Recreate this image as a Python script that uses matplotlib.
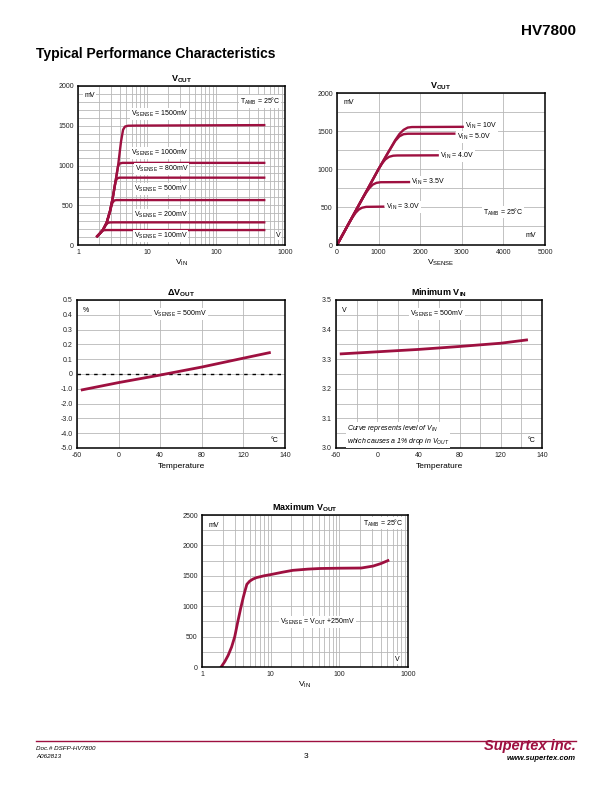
import matplotlib
matplotlib.use('Agg')
import matplotlib.pyplot as plt
from matplotlib.ticker import FixedLocator, NullFormatter, MultipleLocator, LogLocator
import numpy as np

plt.rcParams['font.family'] = ['Liberation Sans', 'DejaVu Sans']
plt.rcParams['mathtext.default'] = 'regular'

RED = '#9e1040'
GRID = '#b8b8b8'

# --- VOUT vs VIN (one curve per VSENSE) ---
vin_100 = [1.85, 2.05, 2.2, 2.35, 2.6, 3.0, 520]
vout_100 = [100, 140, 172, 186, 188, 188, 188]
vin_200 = [1.85, 2.05, 2.3, 2.5, 2.7, 2.9, 3.3, 520]
vout_200 = [100, 140, 190, 245, 278, 284, 285, 285]
vin_500 = [1.85, 2.05, 2.3, 2.6, 2.9, 3.15, 3.35, 3.6, 520]
vout_500 = [100, 140, 190, 280, 420, 530, 560, 565, 565]
vin_800 = [1.85, 2.05, 2.3, 2.6, 2.9, 3.2, 3.5, 3.7, 4.0, 520]
vout_800 = [100, 140, 190, 280, 420, 600, 800, 838, 847, 847]
vin_1000 = [1.85, 2.05, 2.3, 2.6, 2.9, 3.2, 3.5, 3.8, 4.0, 4.4, 520]
vout_1000 = [100, 140, 190, 280, 420, 600, 800, 990, 1025, 1033, 1033]
vin_1500 = [1.85, 2.05, 2.3, 2.6, 2.9, 3.2, 3.5, 3.8, 4.2, 4.5, 4.8, 5.3, 7, 520]
vout_1500 = [100, 140, 190, 280, 420, 600, 800, 990, 1300, 1450, 1490, 1500, 1502, 1508]
sense_labels = ['100', '200', '500', '800', '1000', '1500']

# --- VOUT vs VSENSE (one curve per VIN) ---
vs_30 = [0, 300, 380, 450, 520, 600, 700, 1110]
vo_30 = [0, 300, 370, 425, 465, 490, 502, 505]
vs_35 = [0, 600, 700, 780, 860, 950, 1050, 1730]
vo_35 = [0, 600, 690, 750, 795, 818, 826, 828]
vs_40 = [0, 1000, 1080, 1160, 1250, 1350, 1450, 2420]
vo_40 = [0, 1000, 1070, 1125, 1160, 1175, 1178, 1180]
vs_50 = [0, 1000, 1200, 1300, 1400, 1500, 1600, 1700, 2820]
vo_50 = [0, 1000, 1190, 1280, 1370, 1430, 1458, 1464, 1465]
vs_10 = [0, 1000, 1200, 1300, 1400, 1500, 1600, 1700, 1800, 3020]
vo_10 = [0, 1000, 1190, 1285, 1380, 1460, 1515, 1545, 1552, 1555]

# --- delta VOUT vs temperature ---
temp_dv = [-55, -20, 20, 60, 100, 125]
dvout = [-0.107, -0.058, -0.007, 0.047, 0.107, 0.144]
dv_ticklabels = ['-5.0', '-4.0', '-3.0', '-2.0', '-1.0', '0', '0.1', '0.2', '0.3', '0.4', '0.5']
temp_ticklabels = ['-60', '0', '40', '80', '120', '140']

# --- minimum VIN vs temperature ---
temp_vin = [-55, -20, 20, 60, 100, 125]
vin_min = [3.318, 3.325, 3.333, 3.343, 3.354, 3.365]

# --- maximum VOUT vs VIN ---
vin_max = [1.9, 2.15, 2.4, 2.7, 3.0, 3.3, 3.65, 4.0, 4.2, 4.5, 4.95, 5.5, 6.2, 8, 10, 15,
           21, 35, 52, 100, 209, 310, 400, 510]
vout_max = [0, 90, 190, 330, 500, 730, 960, 1150, 1240, 1360, 1412, 1445, 1470, 1500, 1520,
            1560, 1590, 1610, 1620, 1625, 1628, 1660, 1700, 1750]

W, H = 612, 792
fig = plt.figure(figsize=(W / 100, H / 100), dpi=100)


def box(l, t, r, b):
    return [l / W, 1 - b / H, (r - l) / W, (b - t) / H]


def style(ax, title):
    ax.tick_params(which='both', length=0, labelsize=5, pad=3, colors='#222222')
    for s in ax.spines.values():
        s.set_linewidth(1.1)
    ax.set_axisbelow(True)
    ax.grid(which='both', color=GRID, lw=0.6)
    ax.set_title(title, fontsize=6.5, fontweight='bold', pad=3.5)


def note(ax, x, y, s, ha='left', **kw):
    ax.text(x, y, s, transform=ax.transAxes, fontsize=5, ha=ha, va='center',
            bbox=dict(fc='white', ec='none', pad=0.6), **kw)


def logx(ax):
    ax.set_xscale('log')
    ax.set_xlim(1, 1000)
    ax.xaxis.set_major_locator(FixedLocator([1, 10, 100, 1000]))
    ax.set_xticklabels(['1', '10', '100', '1000'])
    ax.xaxis.set_minor_locator(LogLocator(base=10, subs=np.arange(2, 10)))
    ax.xaxis.set_minor_formatter(NullFormatter())


# chart 1
ax1 = fig.add_axes(box(78, 86, 285, 245))
style(ax1, 'V$_{OUT}$')
logx(ax1)
ax1.set_ylim(0, 2000)
ax1.yaxis.set_major_locator(MultipleLocator(500))
ax1.yaxis.set_minor_locator(MultipleLocator(100))
for xs, ys in [(vin_100, vout_100), (vin_200, vout_200), (vin_500, vout_500),
               (vin_800, vout_800), (vin_1000, vout_1000), (vin_1500, vout_1500)]:
    ax1.plot(xs, ys, color=RED, lw=1.7, solid_capstyle='butt')
ax1.set_xlabel('V$_{IN}$', fontsize=6, labelpad=1.5)
lab_pos = [(0.27, 0.057), (0.27, 0.189), (0.27, 0.352), (0.275, 0.478), (0.256, 0.579), (0.256, 0.824)]
for (x, y), s in zip(lab_pos, sense_labels):
    note(ax1, x, y, 'V$_{SENSE}$ = %smV' % s)
note(ax1, 0.03, 0.94, 'mV')
note(ax1, 0.976, 0.9, 'T$_{AMB}$ = 25°C', ha='right')
note(ax1, 0.955, 0.057, 'V')

# chart 2
ax2 = fig.add_axes(box(337, 93, 545, 245))
style(ax2, 'V$_{OUT}$')
ax2.set_xlim(0, 5000)
ax2.set_ylim(0, 2000)
ax2.xaxis.set_major_locator(MultipleLocator(1000))
ax2.yaxis.set_major_locator(MultipleLocator(500))
ax2.yaxis.set_minor_locator(MultipleLocator(250))
vin_names = ['3.0V', '3.5V', '4.0V', '5.0V', '10V']
lab_y = [500, 830, 1171, 1425, 1566]
for (xs, ys), nm, ly in zip([(vs_30, vo_30), (vs_35, vo_35), (vs_40, vo_40),
                             (vs_50, vo_50), (vs_10, vo_10)], vin_names, lab_y):
    ax2.plot(xs, ys, color=RED, lw=1.7)
    ax2.text(xs[-1] + 60, ly, 'V$_{IN}$ = ' + nm, fontsize=5, va='center',
             bbox=dict(fc='white', ec='none', pad=0.6))
ax2.set_xlabel('V$_{SENSE}$', fontsize=6, labelpad=1.5)
note(ax2, 0.03, 0.94, 'mV')
note(ax2, 0.8, 0.217, 'T$_{AMB}$ = 25°C', ha='center')
note(ax2, 0.93, 0.06, 'mV', ha='center')

# chart 3
ax3 = fig.add_axes(box(77, 300, 285, 448))
style(ax3, 'ΔV$_{OUT}$')
ax3.set_xlim(-60, 140)
ax3.set_ylim(-0.5, 0.5)
ax3.set_xticks([-60, -20, 20, 60, 100, 140])
ax3.set_xticklabels(temp_ticklabels)
ax3.set_yticks(np.round(np.arange(-0.5, 0.51, 0.1), 2))
ax3.set_yticklabels(dv_ticklabels)
ax3.axhline(0, color='black', lw=1.0, ls=(0, (2.5, 3.5)))
ax3.plot(temp_dv, dvout, color=RED, lw=2.0)
ax3.set_xlabel('Temperature', fontsize=6, labelpad=3)
note(ax3, 0.03, 0.93, '%')
note(ax3, 0.495, 0.905, 'V$_{SENSE}$ = 500mV', ha='center')
note(ax3, 0.95, 0.05, '°C', ha='center')

# chart 4
ax4 = fig.add_axes(box(336, 300, 542, 448))
style(ax4, 'Minimum V$_{IN}$')
ax4.set_xlim(-60, 140)
ax4.set_ylim(3.0, 3.5)
ax4.set_xticks([-60, -20, 20, 60, 100, 140])
ax4.set_xticklabels(temp_ticklabels)
ax4.xaxis.set_minor_locator(MultipleLocator(20))
ax4.set_yticks(np.round(np.arange(3.0, 3.51, 0.1), 2))
ax4.set_yticklabels(['3.0', '3.1', '3.2', '3.3', '3.4', '3.5'])
ax4.yaxis.set_minor_locator(MultipleLocator(0.05))
ax4.plot(temp_vin, vin_min, color=RED, lw=2.0)
ax4.set_xlabel('Temperature', fontsize=6, labelpad=3)
note(ax4, 0.03, 0.93, 'V')
note(ax4, 0.49, 0.905, 'V$_{SENSE}$ = 500mV', ha='center')
note(ax4, 0.95, 0.05, '°C', ha='center')
ax4.text(0.053, 0.09, 'Curve represents level of V$_{IN}$\nwhich causes a 1% drop in V$_{OUT}$',
         transform=ax4.transAxes, fontsize=5, style='italic', va='center', linespacing=1.3,
         bbox=dict(fc='white', ec='none', pad=0.6))

# chart 5
ax5 = fig.add_axes(box(202, 515, 408, 667))
style(ax5, 'Maximum V$_{OUT}$')
logx(ax5)
ax5.set_ylim(0, 2500)
ax5.yaxis.set_major_locator(MultipleLocator(500))
ax5.yaxis.set_minor_locator(MultipleLocator(250))
ax5.plot(vin_max, vout_max, color=RED, lw=2.0)
ax5.set_xlabel('V$_{IN}$', fontsize=6, labelpad=1.5)
note(ax5, 0.03, 0.93, 'mV')
note(ax5, 0.976, 0.947, 'T$_{AMB}$ = 25°C', ha='right')
note(ax5, 0.95, 0.05, 'V', ha='center')
note(ax5, 0.56, 0.296, 'V$_{SENSE}$ = V$_{OUT}$ +250mV', ha='center')

# page header / footer
fig.text(576 / W, 1 - 31 / H, 'HV7800', fontsize=11, fontweight='bold', ha='right', va='center')
fig.text(36 / W, 1 - 54 / H, 'Typical Performance Characteristics', fontsize=10,
         fontweight='bold', ha='left', va='center')
fig.add_artist(plt.Line2D([36 / W, 576 / W], [1 - 741 / H, 1 - 741 / H], color=RED, lw=1.0))
fig.text(36 / W, 1 - 748 / H, 'Doc.# DSFP-HV7800', fontsize=4.5, style='italic', va='center')
fig.text(36 / W, 1 - 756 / H, 'A062813', fontsize=4.5, style='italic', va='center')
fig.text(306 / W, 1 - 757 / H, '3', fontsize=6, ha='center', va='center')
fig.text(576 / W, 1 - 746 / H, 'Supertex inc.', fontsize=10.5, fontweight='bold', style='italic',
         color=RED, ha='right', va='center')
fig.text(576 / W, 1 - 758 / H, 'www.supertex.com', fontsize=5.5, fontweight='bold',
         style='italic', ha='right', va='center')

fig.savefig('out.png', dpi=100)
